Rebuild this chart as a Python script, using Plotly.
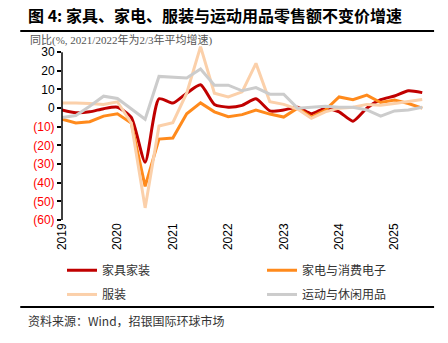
import plotly.graph_objects as go

quarters = [2019 + i * 0.25 for i in range(27)]
year_ticks = [2019, 2020, 2021, 2022, 2023, 2024, 2025]
year_labels = ["2019", "2020", "2021", "2022", "2023", "2024", "2025"]

furniture = [-1, -2.5, -2, -0.3, 0.5, -5, -29, 5, 2.7, 8, 12.5, 2, 0.5, 1.5, 5, -1.5,
             -1, 0.5, -3, 0, -2, -7, 0, 4.5, 6.5, 9.3, 8.3]
appliances = [-6, -8, -7.3, -4.3, -3, -8, -42, -16.6, -16, -3, 2.8, -2, -4.6, -3.5, -1, -3.2,
              -4.8, 0, -4.8, -1, 6, 4.5, 7, 3, 4.3, 2.5, 0]
apparel = [2.7, 2.8, 2.5, 2, 3.4, -8, -53.5, -9.6, -7.8, 8, 33, 8, 6, 8.7, 24, 3.4,
           2, -0.5, -5.5, -2, 0, 0.5, 2, 1.5, 2.5, 3.5, 4.6]
sports = [-5, -4, 1, 6.4, 5.2, -0.5, -6, 17, 16.8, 16.2, 21, 12.3, 12.3, 9.3, 11, 7.5,
          7.5, 0, 0.5, 1, 0.5, 0.5, -1, -4.3, -1.5, -1, 0.5]

y_ticks = [30, 20, 10, 0, -10, -20, -30, -40, -50, -60]
y_labels = [str(v) if v >= 0 else f"<span style='color:#FF0000'>({-v})</span>" for v in y_ticks]

names = ["家具家装", "家电与消费电子", "服装", "运动与休闲用品"]
colors = ["#C00000", "#FF8A1C", "#FBD0AA", "#CCCCCC"]
series = [furniture, appliances, apparel, sports]
shapes_ = ["spline", "linear", "linear", "linear"]
legends = ["legend", "legend2", "legend3", "legend4"]

fig = go.Figure()
for n, c, s, sh, lg in zip(names, colors, series, shapes_, legends):
    fig.add_trace(go.Scatter(x=quarters, y=s, name=n, mode="lines",
                             line=dict(color=c, width=3, shape=sh, smoothing=0.6),
                             legend=lg))

Y_MIN, Y_MAX = -60, 36
zero_pos = (0 - Y_MIN) / (Y_MAX - Y_MIN)

legend_common = dict(orientation="h", xanchor="left", yanchor="top",
                     font=dict(family="Noto Sans CJK SC", size=12, color="#333333"),
                     bgcolor="rgba(0,0,0,0)", itemwidth=30)

fig.update_layout(
    width=448, height=343,
    margin=dict(l=62, r=23, t=41, b=123),
    plot_bgcolor="white", paper_bgcolor="white",
    showlegend=True,
    legend=dict(x=0, y=-0.2, **legend_common),
    legend2=dict(x=0.551, y=-0.2, **legend_common),
    legend3=dict(x=0, y=-0.335, **legend_common),
    legend4=dict(x=0.551, y=-0.335, **legend_common),
    xaxis=dict(range=[2019, 2025.55], tickvals=year_ticks, ticktext=year_labels,
               tickangle=-90, showline=False, showgrid=False, zeroline=False, ticks="",
               tickfont=dict(family="Liberation Sans", size=12, color="black")),
    xaxis2=dict(overlaying="x", matches="x", anchor="free", position=zero_pos,
                range=[2019, 2025.55], tickvals=year_ticks, showticklabels=False,
                showline=True, linecolor="black", linewidth=1.5, ticks="outside",
                ticklen=4, tickcolor="black", showgrid=False, zeroline=False),
    yaxis=dict(range=[Y_MIN, Y_MAX], tickvals=y_ticks, ticktext=y_labels,
               showline=False, showgrid=False, zeroline=False, ticks="outside",
               ticklen=4, tickcolor="black", tickwidth=1.5,
               tickfont=dict(family="Liberation Sans", size=12, color="black")),
    shapes=[
        dict(type="line", xref="paper", yref="y", x0=0, x1=0, y0=-60, y1=30,
             line=dict(color="black", width=1.5)),
        dict(type="line", xref="paper", yref="paper", x0=-0.115, x1=1.025,
             y0=1.056, y1=1.056, line=dict(color="black", width=2)),
        dict(type="line", xref="paper", yref="paper", x0=-0.115, x1=1.025,
             y0=-0.486, y1=-0.486, line=dict(color="black", width=2)),
    ],
    annotations=[
        dict(text="<b>图 4: 家具、家电、服装与运动用品零售额不变价增速</b>", xref="paper", yref="paper",
             x=-0.10, y=1.145, xanchor="left", yanchor="middle", showarrow=False,
             font=dict(family="Noto Sans CJK SC", size=16, color="black")),
        dict(text="同比(%, 2021/2022年为2/3年平均增速)", xref="paper", yref="paper",
             x=-0.093, y=1.003, xanchor="left", yanchor="middle", showarrow=False,
             font=dict(family="Liberation Serif, Noto Sans CJK SC", size=11, color="#555555")),
        dict(text="资料来源：Wind，招银国际环球市场", xref="paper", yref="paper",
             x=-0.10, y=-0.559, xanchor="left", yanchor="middle", showarrow=False,
             font=dict(family="Noto Sans CJK SC", size=12, color="#333333")),
    ],
)

fig.write_html("out.html")
